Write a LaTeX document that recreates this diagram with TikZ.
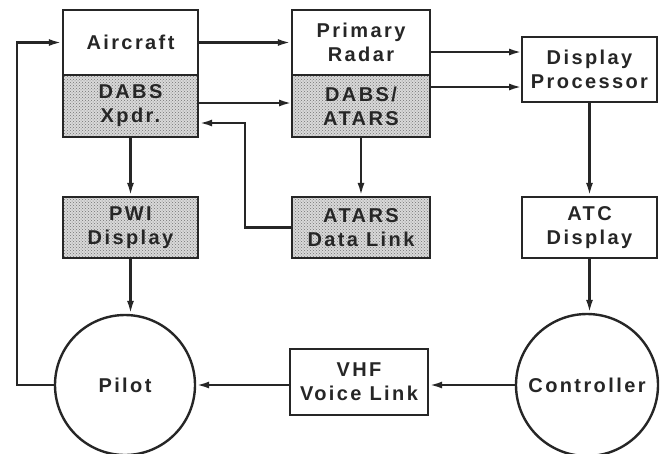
\documentclass[tikz,border=0pt]{standalone}
\usepackage{fontspec}
\setmainfont{Liberation Sans}[LetterSpace=12]
\usetikzlibrary{arrows.meta,patterns,calc}
\begin{document}
\begin{tikzpicture}[x=1pt,y=-1pt,
  every node/.style={font=\bfseries\fontsize{20}{24}\selectfont, align=center, inner sep=0pt, text=black!85},
  box/.style={draw=black!85, line width=2.4pt, rectangle, minimum width=135pt},
  shade/.style={box, preaction={fill=gray!30}, pattern=crosshatch dots, pattern color=black!55},
  circ/.style={draw=black!85, line width=2.4pt, circle, minimum size=140pt},
  arr/.style={draw=black!85, line width=2.4pt, -{Latex[length=13pt,width=7pt]}}]
\useasboundingbox (0,0) rectangle (663,453);
\fill[white] (0,0) rectangle (663,453);
% boxes
\node[box, minimum height=65pt] (air) at (130.5,42.5) {Aircraft};
\node[shade, minimum height=62pt] (xpdr) at (130.5,106) {DABS\\Xpdr.};
\node[box, minimum height=65pt, minimum width=138pt] (prim) at (361,42.5) {Primary\\Radar};
\node[shade, minimum height=62pt, minimum width=138pt] (dabs) at (361,106) {DABS/\\ATARS};
\node[box, minimum height=65pt] (dp) at (589.5,69.5) {Display\\Processor};
\node[shade, minimum height=61pt] (pwi) at (130.5,227.5) {PWI\\Display};
\node[shade, minimum height=61pt, minimum width=138pt] (dl) at (361,227.5) {ATARS\\Data Link};
\node[box, minimum height=61pt] (atc) at (589.5,227.5) {ATC\\Display};
\node[box, minimum height=66pt, minimum width=138pt] (vhf) at (359,382) {VHF\\Voice Link};
\node[circ] (pilot) at (125,385) {Pilot};
\node[circ, minimum size=142pt] (ctl) at (587,385) {Controller};
% helper coordinates
\coordinate (c1) at (292,103);
\coordinate (ret) at (245,123);
\coordinate (d1) at (522,52);
\coordinate (d2) at (522,87);
\coordinate (fb) at (17,385);
% connectors
\draw[arr] (air.east) -- (prim.west);
\draw[arr] (xpdr.east |- c1) -- (c1);
\draw[arr] (dl.west) -| (ret) -- (xpdr.east |- ret);
\draw[arr] (prim.east |- d1) -- (d1);
\draw[arr] (dabs.east |- d2) -- (d2);
\draw[arr] (xpdr.south) -- (pwi.north);
\draw[arr] (dabs.south) -- (dl.north);
\draw[arr] (dp.south) -- (atc.north);
\draw[arr] (pwi.south) -- (pwi.south |- pilot.north);
\draw[arr] (atc.south) -- (atc.south |- ctl.north);
\draw[arr] (ctl.west) -- (vhf.east |- ctl.west);
\draw[arr] (vhf.west |- pilot.east) -- (pilot.east);
\draw[arr] (pilot.west) -- (fb) |- (air.west);
\end{tikzpicture}
\end{document}
